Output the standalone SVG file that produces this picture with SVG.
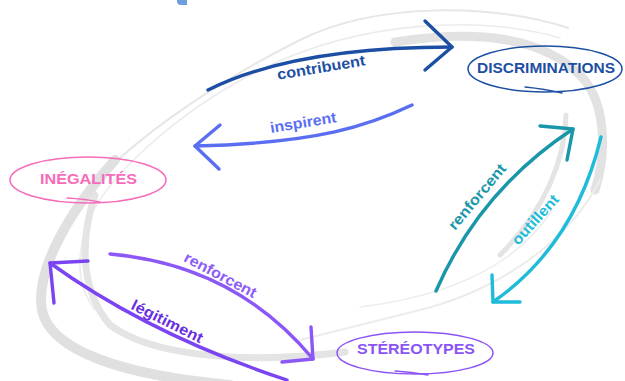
<svg xmlns="http://www.w3.org/2000/svg" width="625" height="381" viewBox="0 0 625 381">
<style>
.sw{fill:none;stroke-linecap:round;stroke-linejoin:round}
.ar{fill:none;stroke-width:3.4;stroke-linecap:round;stroke-linejoin:round}
.nd{fill:none;stroke-width:1.5}
.tl{fill:none;stroke-width:1.3;stroke-linecap:round}
.lbl{font-family:"Liberation Sans",Arial,sans-serif;font-weight:bold;font-size:15px;text-anchor:middle}
.nt{font-family:"Liberation Sans",Arial,sans-serif;font-weight:bold;font-size:15px;text-anchor:middle}
</style>
<rect width="625" height="381" fill="#ffffff"/>
<path d="M177,0 H187 V5 H181 Q177,5 177,1 Z" fill="#6b9de0"/>
<g id="swoosh">
<path class="sw" stroke="#e6e6e6" stroke-width="2" d="M568,28 C500,5 380,0 300,40 C220,80 110,150 70,215 C45,255 40,290 45,310"/>
<path class="sw" stroke="#ececec" stroke-width="1.6" d="M560,38 C480,15 360,20 260,70 C180,110 100,180 85,230 C75,265 80,290 95,310"/>
<path class="sw" stroke="#e2e2e2" stroke-width="9" d="M395,42 C470,30 540,35 580,75 C605,100 608,150 595,190"/>
<path class="sw" stroke="#e4e4e4" stroke-width="5" d="M566,115 C565,160 545,210 500,255"/>
<path class="sw" stroke="#ececec" stroke-width="2" d="M600,180 C570,240 500,290 420,310 C380,320 340,330 300,340"/>
<path class="sw" stroke="#ededed" stroke-width="1.6" d="M552,210 C520,260 460,295 360,307"/>
<path class="sw" stroke="#e0e0e0" stroke-width="10" d="M115,160 C70,210 35,270 42,310 C50,350 120,375 230,385"/>
<path class="sw" stroke="#e4e4e4" stroke-width="7" d="M95,195 C80,240 80,290 110,325 C150,355 240,365 345,352"/>
</g>
<g id="connectors">
<g id="c-contribuent">
<path class="ar" stroke="#1c4fa3" d="M208,90 C260,64 340,47 452,47"/>
<path class="ar" stroke="#1c4fa3" d="M425,21 L452,47 L425,70"/>
<text class="lbl" fill="#1e4fa2" x="322" y="72.5" transform="rotate(-9.5 322 72.5)" textLength="89" lengthAdjust="spacingAndGlyphs">contribuent</text>
</g>
<g id="c-inspirent">
<path class="ar" stroke="#5a6ef2" d="M412,105 C370,125 320,143 195,146"/>
<path class="ar" stroke="#5a6ef2" d="M220,125 L195,146 L219,169"/>
<text class="lbl" fill="#5a6ef2" x="304" y="127.5" transform="rotate(-9.3 304 127.5)" textLength="67" lengthAdjust="spacingAndGlyphs">inspirent</text>
</g>
<g id="c-renforcent-teal">
<path class="ar" stroke="#1996a9" d="M436,291 Q480,190 573,129"/>
<path class="ar" stroke="#1996a9" d="M540,126 L573,129 L567,160"/>
<text class="lbl" fill="#1996a9" x="481" y="200" transform="rotate(-50 481 200)" textLength="81" lengthAdjust="spacingAndGlyphs">renforcent</text>
</g>
<g id="c-outillent">
<path class="ar" stroke="#1fbcd9" d="M601,137 Q575,245 493,302"/>
<path class="ar" stroke="#1fbcd9" d="M492,275 L493,302 L520,302"/>
<text class="lbl" fill="#1fbcd9" x="539" y="223" transform="rotate(-48 539 223)" textLength="62" lengthAdjust="spacingAndGlyphs">outillent</text>
</g>
<g id="c-legitiment">
<path class="ar" stroke="#7a44f2" d="M50,263 Q150,335 287,380"/>
<path class="ar" stroke="#7a44f2" d="M88,261 L50,263 L54,303"/>
<text class="lbl" fill="#6a2fe0" x="165" y="326" transform="rotate(26.5 165 326)" textLength="78" lengthAdjust="spacingAndGlyphs">légitiment</text>
</g>
<g id="c-renforcent-violet">
<path class="ar" stroke="#8b58f6" d="M110,254 Q235,265 313,359"/>
<path class="ar" stroke="#8b58f6" d="M311,327 L313,359 L282,362"/>
<text class="lbl" fill="#8d5cf6" x="218" y="279.5" transform="rotate(28 218 279.5)" textLength="80" lengthAdjust="spacingAndGlyphs">renforcent</text>
</g>
</g>
<g id="node-discriminations">
<ellipse class="nd" stroke="#1c4fa3" cx="545" cy="69" rx="77" ry="23"/>
<path class="tl" stroke="#1c4fa3" d="M525,87 Q545,89 562,93"/>
<text class="nt" fill="#1e4fa2" x="546" y="73" textLength="138" lengthAdjust="spacingAndGlyphs">DISCRIMINATIONS</text>
</g>
<g id="node-inegalites">
<ellipse class="nd" stroke="#f66bbb" cx="88" cy="180" rx="78" ry="23"/>
<path class="tl" stroke="#f66bbb" d="M67,198 Q85,199 100,202"/>
<text class="nt" fill="#f66bbb" x="88.5" y="184" textLength="97" lengthAdjust="spacingAndGlyphs">INÉGALITÉS</text>
</g>
<g id="node-stereotypes">
<ellipse class="nd" stroke="#8b55f5" cx="415" cy="353" rx="78" ry="21"/>
<path class="tl" stroke="#8b55f5" d="M395,371 Q412,372 428,375"/>
<text class="nt" fill="#8b55f5" x="416" y="354" textLength="118" lengthAdjust="spacingAndGlyphs">STÉRÉOTYPES</text>
</g>
</svg>
